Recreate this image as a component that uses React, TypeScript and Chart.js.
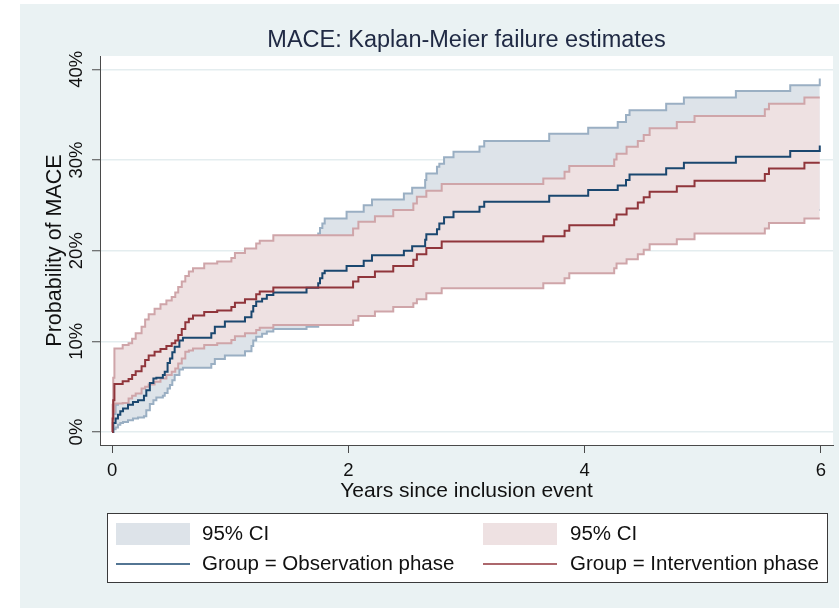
import React, { useEffect, useRef } from 'react';
import { Chart, registerables } from 'chart.js';

Chart.register(...registerables);

// ---------------- data (years, % probability of MACE) ----------------
const obsTimes = [0, 0.01, 0.03, 0.05, 0.07, 0.093, 0.135, 0.177, 0.22, 0.27, 0.29, 0.32, 0.35, 0.375, 0.43, 0.446, 0.47, 0.49, 0.51, 0.53, 0.57, 0.6, 0.84, 0.87, 0.955, 1.125, 1.18, 1.195, 1.22, 1.27, 1.31, 1.365, 1.646, 1.745, 1.76, 1.78, 1.8, 1.985, 2.13, 2.2, 2.47, 2.54, 2.65, 2.66, 2.75, 2.77, 2.81, 2.89, 3.11, 3.15, 3.7, 4.03, 4.28, 4.35, 4.38, 4.69, 4.84, 5.28, 5.74, 5.99];
const obsEstimate = [0, 1.0, 1.5, 1.9, 2.3, 2.6, 3.0, 3.3, 3.5, 4.0, 4.6, 5.4, 5.9, 6.0, 6.3, 6.65, 7.6, 8.1, 8.8, 9.4, 10.1, 10.4, 10.9, 11.6, 12.2, 12.65, 13.3, 13.9, 14.4, 14.7, 15.1, 15.4, 15.9, 16.4, 16.95, 17.5, 17.8, 18.3, 18.9, 19.5, 20.0, 20.5, 21.2, 21.8, 22.35, 23.0, 23.7, 24.3, 24.85, 25.4, 26.05, 26.7, 27.2, 27.8, 28.4, 29.1, 29.7, 30.35, 31.0, 31.6];
const obsUpper = [0, 2.0, 3.0, 3.6, 4.2, 4.6, 5.1, 5.5, 5.7, 6.3, 7.0, 8.0, 8.6, 8.8, 9.2, 9.6, 10.7, 11.3, 12.1, 12.7, 13.5, 13.8, 14.4, 15.2, 15.9, 16.4, 17.1, 17.8, 18.3, 18.7, 19.1, 19.5, 20.1, 21.9, 22.5, 23.0, 23.55, 24.3, 25.0, 25.65, 26.3, 26.95, 27.8, 28.5, 29.25, 29.6, 30.3, 30.9, 31.5, 32.1, 32.9, 33.55, 34.2, 34.95, 35.5, 36.2, 36.9, 37.6, 38.25, 39.0];
const obsLower = [0, 0.3, 0.5, 0.8, 1.0, 1.1, 1.3, 1.5, 1.6, 1.75, 2.4, 3.1, 3.5, 3.8, 4.0, 4.3, 4.8, 5.2, 5.7, 6.3, 6.9, 7.1, 7.5, 8.05, 8.45, 8.9, 9.5, 10.1, 10.5, 10.85, 11.1, 11.35, 11.6, 12.0, 12.4, 12.8, 13.1, 13.5, 14.0, 14.5, 14.9, 15.3, 15.9, 16.4, 16.9, 17.5, 18.1, 18.6, 19.1, 19.6, 20.2, 20.8, 21.2, 21.7, 22.2, 22.8, 23.3, 23.9, 24.5, 24.5];

const intTimes = [0, 0.005, 0.01, 0.02, 0.09, 0.14, 0.17, 0.2, 0.25, 0.28, 0.31, 0.36, 0.41, 0.46, 0.505, 0.535, 0.56, 0.59, 0.62, 0.65, 0.685, 0.78, 0.89, 1.01, 1.04, 1.125, 1.22, 1.25, 1.365, 2.04, 2.085, 2.225, 2.38, 2.55, 2.58, 2.66, 2.79, 3.65, 3.83, 3.87, 4.25, 4.27, 4.355, 4.45, 4.5, 4.55, 4.78, 4.93, 5.525, 5.56, 5.86, 5.99];
const intEstimate = [0, 1.5, 3.5, 5.3, 5.6, 5.85, 6.3, 6.7, 7.25, 7.95, 8.45, 8.85, 9.15, 9.5, 9.8, 10.1, 10.7, 11.35, 12.1, 12.5, 12.85, 13.25, 13.4, 13.8, 14.25, 14.65, 15.2, 15.5, 15.95, 16.6, 17.1, 17.7, 18.3, 19.0, 19.6, 20.3, 21.0, 21.6, 22.2, 22.8, 23.45, 24.0, 24.65, 25.3, 25.9, 26.5, 27.1, 27.7, 28.45, 29.05, 29.7, 29.7];
const intUpper = [0, 3.0, 6.0, 9.2, 9.6, 9.8, 10.3, 10.9, 11.6, 12.4, 13.0, 13.6, 14.1, 14.5, 14.9, 15.4, 16.0, 16.6, 17.2, 17.7, 18.05, 18.6, 18.8, 19.2, 19.75, 20.25, 20.8, 21.1, 21.7, 22.45, 23.2, 23.8, 24.5, 25.2, 25.95, 26.6, 27.35, 27.95, 28.7, 29.35, 30.05, 30.7, 31.45, 32.1, 32.75, 33.5, 34.2, 34.85, 35.6, 36.2, 36.9, 36.9];
const intLower = [0, 1.0, 2.2, 3.15, 3.2, 3.7, 4.0, 4.25, 4.8, 5.0, 5.25, 5.55, 5.9, 6.3, 6.65, 7.0, 7.55, 8.1, 8.85, 9.0, 9.2, 9.6, 9.8, 10.15, 10.55, 10.9, 11.25, 11.5, 11.8, 12.3, 12.8, 13.3, 13.8, 14.2, 14.65, 15.3, 15.85, 16.4, 16.95, 17.5, 18.05, 18.6, 19.05, 19.6, 20.1, 20.7, 21.25, 21.9, 22.45, 23.05, 23.55, 23.55];

const xTicks = [0, 2, 4, 6];
const yTicks = [0, 10, 20, 30, 40];
const titleText = 'MACE: Kaplan-Meier failure estimates';
const xTitle = 'Years since inclusion event';
const yTitle = 'Probability of MACE';
const legendLabels = ['95% CI', '95% CI', 'Group = Observation phase', 'Group = Intervention phase'];

// ---------------- styles ----------------
const FONT = "'Liberation Sans', Arial, Helvetica, sans-serif";
const BG = '#EAF2F3';
const GRID = '#E4EDEF';
const AXIS = '#4a4a4a';
const NAVY = '#1A476F';
const MAROON = '#90353B';
const NAVY_FILL = '#DDE3E9';
const MAROON_FILL = '#EEE1E2';
const NAVY_EDGE = '#9AAFC3';
const MAROON_EDGE = '#CFA5A9';
const TEXT = '#111111';

const toPoints = (ts: number[], vs: number[]) => ts.map((t, i) => ({ x: t, y: vs[i] }));

const stepLine = (label: string, ts: number[], vs: number[], color: string, width: number, extra: any = {}) => ({
  label,
  data: toPoints(ts, vs),
  borderColor: color,
  borderWidth: width,
  pointRadius: 0,
  pointHoverRadius: 0,
  stepped: 'before',
  fill: false,
  tension: 0,
  borderJoinStyle: 'miter',
  borderCapStyle: 'butt',
  ...extra,
});

const backgroundPlugin = {
  id: 'stataBackground',
  beforeDraw(chart: any) {
    const { ctx, chartArea: a, width, height } = chart;
    ctx.save();
    ctx.fillStyle = '#ffffff';
    ctx.fillRect(0, 0, width, height);
    ctx.fillStyle = BG;
    ctx.fillRect(20, 4, width - 20, height - 4);
    ctx.fillStyle = '#ffffff';
    ctx.fillRect(a.left, a.top, a.right - a.left, a.bottom - a.top);
    ctx.restore();
  },
};

const legendPlugin = {
  id: 'stataLegend',
  afterDraw(chart: any) {
    const ctx = chart.ctx;
    ctx.save();
    ctx.fillStyle = '#ffffff';
    ctx.fillRect(107.5, 513.5, 720, 69);
    ctx.strokeStyle = '#3a3a3a';
    ctx.lineWidth = 1;
    ctx.strokeRect(107.5, 513.5, 720, 69);

    const cols = [116, 483];
    const textX = [202, 570];
    const row1 = 534;
    const row2 = 564;
    ctx.fillStyle = NAVY_FILL;
    ctx.fillRect(cols[0], 523, 74, 22);
    ctx.fillStyle = MAROON_FILL;
    ctx.fillRect(cols[1], 523, 74, 22);
    ctx.lineWidth = 1.5;
    ctx.strokeStyle = NAVY;
    ctx.beginPath();
    ctx.moveTo(cols[0], row2);
    ctx.lineTo(cols[0] + 74, row2);
    ctx.stroke();
    ctx.strokeStyle = MAROON;
    ctx.beginPath();
    ctx.moveTo(cols[1], row2);
    ctx.lineTo(cols[1] + 74, row2);
    ctx.stroke();

    ctx.fillStyle = TEXT;
    ctx.font = `20.5px ${FONT}`;
    ctx.textBaseline = 'middle';
    ctx.textAlign = 'left';
    ctx.fillText(legendLabels[0], textX[0], row1);
    ctx.fillText(legendLabels[1], textX[1], row1);
    ctx.fillText(legendLabels[2], textX[0], row2);
    ctx.fillText(legendLabels[3], textX[1], row2);
    ctx.restore();
  },
};

export default function App() {
  const canvasRef = useRef<HTMLCanvasElement | null>(null);

  useEffect(() => {
    const canvas = canvasRef.current;
    if (!canvas) return;
    const chart = new Chart(canvas, {
      type: 'line',
      data: {
        datasets: [
          stepLine('Group = Intervention phase', intTimes, intEstimate, MAROON, 2),
          stepLine('Group = Observation phase', obsTimes, obsEstimate, NAVY, 2),
          stepLine('95% CI upper (Intervention)', intTimes, intUpper, MAROON_EDGE, 2),
          stepLine('95% CI lower (Intervention)', intTimes, intLower, MAROON_EDGE, 2, { fill: '-1', backgroundColor: MAROON_FILL }),
          stepLine('95% CI upper (Observation)', obsTimes, obsUpper, NAVY_EDGE, 2),
          stepLine('95% CI lower (Observation)', obsTimes, obsLower, NAVY_EDGE, 2, { fill: '-1', backgroundColor: NAVY_FILL }),
        ] as any,
      },
      options: {
        responsive: false,
        animation: false,
        events: [],
        layout: { padding: { left: 20, right: 6, top: 4, bottom: 103 } },
        plugins: {
          legend: { display: false },
          tooltip: { enabled: false },
          title: {
            display: true,
            text: titleText,
            fullSize: false,
            color: '#202a44',
            font: { family: FONT, size: 23.5, weight: 'normal' },
            padding: { top: 22, bottom: 1.8 },
          },
        },
        scales: {
          x: {
            type: 'linear',
            min: -0.102,
            max: 6.102,
            afterBuildTicks: (s: any) => {
              s.ticks = xTicks.map((v) => ({ value: v }));
            },
            afterFit: (s: any) => {
              s.height = 60;
            },
            grid: { display: true, drawOnChartArea: false, drawTicks: true, tickLength: 8, tickColor: AXIS, tickWidth: 1 },
            border: { display: true, color: AXIS, width: 1 },
            ticks: { color: TEXT, font: { family: FONT, size: 18.5 }, padding: 7, maxRotation: 0, autoSkip: false },
            title: { display: true, text: xTitle, color: TEXT, font: { family: FONT, size: 21 }, padding: { top: 0, bottom: 1.4 } },
          },
          y: {
            type: 'linear',
            min: -1.43,
            max: 41.47,
            afterBuildTicks: (s: any) => {
              s.ticks = yTicks.map((v) => ({ value: v }));
            },
            afterFit: (s: any) => {
              s.width = 80;
            },
            grid: { color: GRID, lineWidth: 1.5, drawTicks: true, tickLength: 8, tickColor: AXIS, tickWidth: 1 },
            border: { display: true, color: AXIS, width: 1 },
            ticks: {
              color: TEXT,
              font: { family: FONT, size: 18.5 },
              padding: -3.5,
              minRotation: 90,
              maxRotation: 90,
              crossAlign: 'center',
              autoSkip: false,
              callback: (v: any) => `${v}%`,
            },
            title: { display: true, text: yTitle, color: TEXT, font: { family: FONT, size: 21.5 }, padding: { top: 22, bottom: 0 } },
          },
        },
      } as any,
      plugins: [backgroundPlugin, legendPlugin],
    });
    return () => chart.destroy();
  }, []);

  return (
    <div style={{ position: 'absolute', left: 0, top: 0, width: 839, height: 608 }}>
      <canvas ref={canvasRef} width={839} height={608} style={{ width: 839, height: 608, display: 'block' }} />
    </div>
  );
}
